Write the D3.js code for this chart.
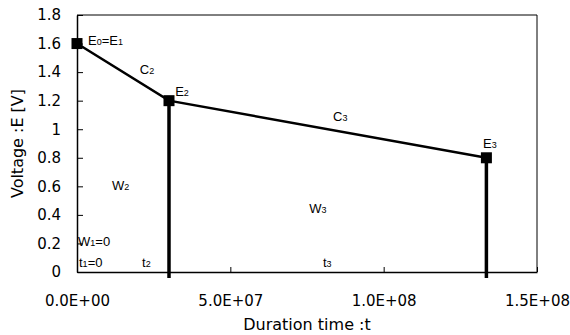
<!DOCTYPE html>
<html>
<head>
<meta charset="utf-8">
<script src="https://cdnjs.cloudflare.com/ajax/libs/d3/7.8.5/d3.min.js"></script>
<style>
  body { margin: 0; background: #fff; }
  svg { display: block; }
  text { font-family: "Liberation Sans", Arial, sans-serif; fill: #000; }
</style>
</head>
<body>
<div id="chart"></div>
<script>
  // data points (duration time, voltage)
  var times = [0, 3.0e7, 1.335e8];
  var volts = [1.6, 1.2, 0.8];

  // axis ticks
  var xTicks = [0, 5e7, 1e8, 1.5e8];
  var xTickLabels = ['0.0E+00', '5.0E+07', '1.0E+08', '1.5E+08'];
  var yTicks = [0, 0.2, 0.4, 0.6, 0.8, 1, 1.2, 1.4, 1.6, 1.8];
  var yTickLabels = ['0', '0.2', '0.4', '0.6', '0.8', '1', '1.2', '1.4', '1.6', '1.8'];

  // annotations, "_" marks the following char as subscript
  var noteTexts = ['E_0=E_1', 'C_2', 'E_2', 'C_3', 'E_3', 'W_2', 'W_3', 'W_1=0', 't_1=0', 't_2', 't_3'];
  var noteTimes = [3.6e6, 2.05e7, 3.2e7, 8.35e7, 1.324e8, 1.14e7, 7.57e7, 3.3e5, 6.5e5, 2.12e7, 8.02e7];
  var noteVolts = [1.59, 1.387, 1.233, 1.057, 0.868, 0.574, 0.413, 0.182, 0.035, 0.035, 0.035];

  var width = 570, height = 335;
  var margin = {top: 15, right: 33, bottom: 63, left: 77};
  var axisFont = '"DejaVu Sans", sans-serif';

  var svg = d3.select('#chart').append('svg')
    .attr('width', width)
    .attr('height', height);

  var x = d3.scaleLinear().domain([0, 1.5e8]).range([margin.left, width - margin.right]);
  var y = d3.scaleLinear().domain([0, 1.8]).range([height - margin.bottom, margin.top]);

  // frame top + right
  svg.append('path')
    .attr('d', 'M' + x(0) + ',' + y(1.8) + 'H' + x(1.5e8) + 'V' + y(0))
    .attr('fill', 'none')
    .attr('stroke', '#000')
    .attr('stroke-width', 1);

  var xAxis = d3.axisBottom(x)
    .tickValues(xTicks)
    .tickFormat(function (d, i) { return xTickLabels[i]; })
    .tickSizeInner(-5)
    .tickSizeOuter(0)
    .tickPadding(23);

  var yAxis = d3.axisLeft(y)
    .tickValues(yTicks)
    .tickFormat(function (d, i) { return yTickLabels[i]; })
    .tickSizeInner(-6)
    .tickSizeOuter(0)
    .tickPadding(16);

  var gx = svg.append('g')
    .attr('transform', 'translate(0,' + y(0) + ')')
    .call(xAxis);
  var gy = svg.append('g')
    .attr('transform', 'translate(' + x(0) + ',0)')
    .call(yAxis);

  [gx, gy].forEach(function (g) {
    g.select('.domain').attr('stroke', '#000').attr('stroke-width', 1.5);
    g.selectAll('.tick line').attr('stroke', '#000');
    g.selectAll('text')
      .style('font-family', axisFont)
      .style('font-size', '15px')
      .attr('fill', '#000');
  });

  // axis titles
  svg.append('text')
    .attr('x', (x(0) + x(1.5e8)) / 2)
    .attr('y', 330)
    .attr('text-anchor', 'middle')
    .style('font-family', axisFont)
    .style('font-size', '16px')
    .text('Duration time :t');

  svg.append('text')
    .attr('transform', 'translate(23,' + (y(0) + y(1.8)) / 2 + ') rotate(-90)')
    .attr('text-anchor', 'middle')
    .style('font-family', axisFont)
    .style('font-size', '16px')
    .text('Voltage :E [V]');

  var pts = times.map(function (t, i) { return {t: t, v: volts[i]}; });

  // drop lines
  svg.selectAll('.drop')
    .data(pts.slice(1))
    .enter()
    .append('line')
    .attr('class', 'drop')
    .attr('x1', function (d) { return x(d.t); })
    .attr('x2', function (d) { return x(d.t); })
    .attr('y1', function (d) { return y(d.v); })
    .attr('y2', y(0) + 6)
    .attr('stroke', '#000')
    .attr('stroke-width', 3.5);

  // voltage line
  var line = d3.line()
    .x(function (d) { return x(d.t); })
    .y(function (d) { return y(d.v); });

  svg.append('path')
    .datum(pts)
    .attr('d', line)
    .attr('fill', 'none')
    .attr('stroke', '#000')
    .attr('stroke-width', 2.5);

  var sq = 11;
  svg.selectAll('.pt')
    .data(pts)
    .enter()
    .append('rect')
    .attr('class', 'pt')
    .attr('x', function (d) { return x(d.t) - sq / 2; })
    .attr('y', function (d) { return y(d.v) - sq / 2; })
    .attr('width', sq)
    .attr('height', sq)
    .attr('fill', '#000');

  // annotations with subscripts
  noteTexts.forEach(function (s, i) {
    var txt = svg.append('text')
      .attr('x', x(noteTimes[i]))
      .attr('y', y(noteVolts[i]))
      .style('font-size', '13px');
    var k = 0;
    while (k < s.length) {
      if (s[k] === '_') {
        txt.append('tspan').style('font-size', '9px').text(s[k + 1]);
        k += 2;
      } else {
        var j = s.indexOf('_', k);
        if (j < 0) j = s.length;
        txt.append('tspan').text(s.slice(k, j));
        k = j;
      }
    }
  });
</script>
</body>
</html>
